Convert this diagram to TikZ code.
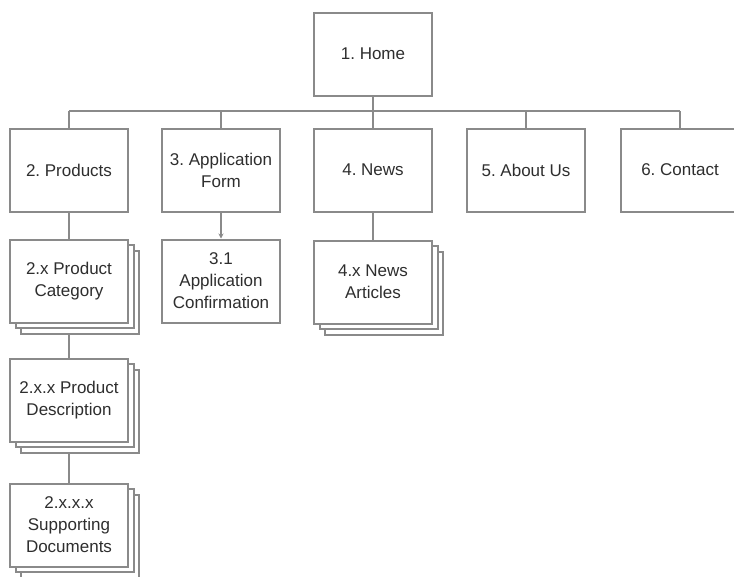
\documentclass[tikz,border=0pt]{standalone}
\usepackage{fontspec}
\setmainfont{Liberation Sans}
\usepackage{xcolor}
\usetikzlibrary{arrows.meta,positioning,shadows,backgrounds}

\definecolor{linegray}{HTML}{8A8A8A}
\definecolor{textgray}{HTML}{2E2E2E}

\tikzset{
    page/.style={draw=linegray, line width=2pt, fill=white, text=textgray,
        minimum width=118pt, minimum height=83pt, align=center,
        font=\fontsize{17}{22}\selectfont\frenchspacing},
    pagestack/.style={page,
        double copy shadow={shadow xshift=5.5pt, shadow yshift=-5.5pt,
            draw=linegray, line width=2pt, fill=white}},
    link/.style={draw=linegray, line width=2pt},
}

\begin{document}
\begin{tikzpicture}[x=1pt, y=-1pt]
                \clip (0,0) rectangle (734,576);

                % top level
                \node[page] (home) at (373,54) {1. Home};

                % second level
                \node[page] (products) at (69,170) {2. Products};
                \node[page] (appform) at (221,170) {3. Application\\Form};
                \node[page] (news) at (373,170) {4. News};
                \node[page] (about) at (526,170) {5. About Us};
                \node[page] (contact) at (680,170) {6. Contact};

                % third level and below
                \node[pagestack] (category) at (69,281) {2.x Product\\Category};
                \node[pagestack] (description) at (69,400) {2.x.x Product\\Description};
                \node[pagestack] (documents) at (69,525) {2.x.x.x\\Supporting\\Documents};
                \node[page] (confirm) at (221,281) {3.1\\Application\\Confirmation};
                \node[pagestack] (articles) at (373,282) {4.x News\\Articles};

                \coordinate (busL) at (69,111);
                \coordinate (busR) at (680,111);

                \begin{scope}[on background layer]
                    \draw[link] (home.south) -- (home |- busL);
                    \draw[link] (busL) -- (busR);
                    \foreach \n in {products,appform,news,about,contact}
                        \draw[link] (\n.north) -- (\n |- busL);
                    \draw[link] (products) -- (category);
                    \draw[link] (category) -- (description);
                    \draw[link] (description) -- (documents);
                    \draw[link] (news) -- (articles);
                \end{scope}

                \draw[draw=linegray, line width=1.5pt,
                    -{Stealth[length=5pt, width=5pt]}] (appform.south) -- (confirm.north);
            \end{tikzpicture}
\end{document}
